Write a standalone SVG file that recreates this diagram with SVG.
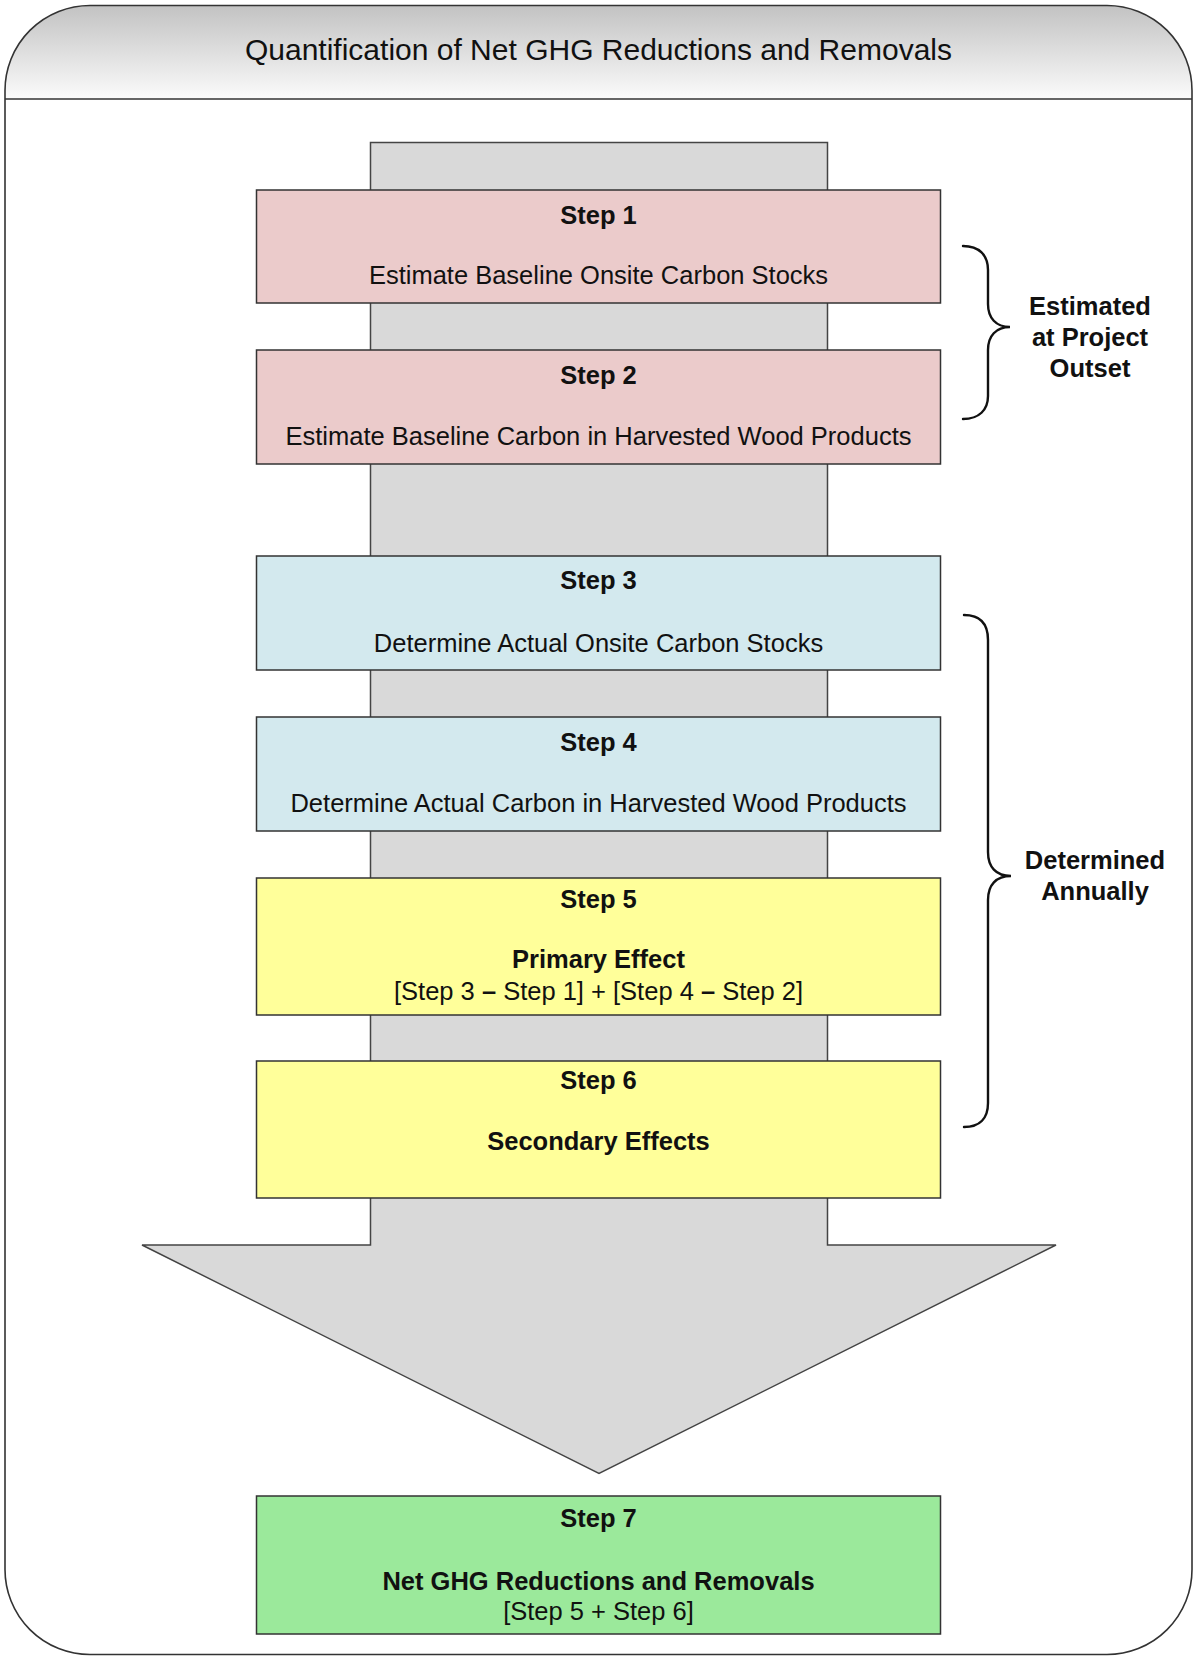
<svg xmlns="http://www.w3.org/2000/svg" width="1194" height="1656" viewBox="0 0 1194 1656">
<defs>
<linearGradient id="hdr" gradientUnits="userSpaceOnUse" x1="0" y1="5" x2="0" y2="99">
<stop offset="0" stop-color="#c2c2c2"/>
<stop offset="1" stop-color="#fbfbfb"/>
</linearGradient>
<clipPath id="hclip"><rect x="0" y="0" width="1194" height="99"/></clipPath>
<style>
.frame{fill:none;stroke:#333;stroke-width:1.6}
.box{stroke:#333;stroke-width:1.5}
.pink{fill:#ebcbcb}
.blue{fill:#d3e9ee}
.yellow{fill:#ffff9a}
.green{fill:#9be99b}
.t{font-family:"Liberation Sans",Arial,sans-serif;font-size:25.5px;fill:#111;text-anchor:middle}
.b{font-weight:bold}
.brace{fill:none;stroke:#111;stroke-width:2.4;stroke-linecap:round}
</style>
</defs>
<rect x="0" y="0" width="1194" height="1656" fill="#ffffff"/>
<g id="frame">
<rect x="5" y="5.5" width="1187" height="1649" rx="85" ry="85" fill="url(#hdr)" clip-path="url(#hclip)"/>
<rect class="frame" x="5" y="5.5" width="1187" height="1649" rx="85" ry="85"/>
<line x1="5" y1="99" x2="1192" y2="99" stroke="#333" stroke-width="1.6"/>
<text class="t" x="598.5" y="60" style="font-size:30px">Quantification of Net GHG Reductions and Removals</text>
</g>
<g id="connectors">
<polygon id="flow-arrow" points="370.5,142.5 827.5,142.5 827.5,1245 1056,1245 599,1473.5 142,1245 370.5,1245" fill="#d9d9d9" stroke="#444" stroke-width="1.5" stroke-linejoin="miter"/>
</g>
<g id="step1">
<rect class="box pink" x="256.5" y="190" width="684" height="113"/>
<text class="t b" x="598.5" y="224">Step 1</text>
<text class="t" x="598.5" y="284">Estimate Baseline Onsite Carbon Stocks</text>
</g>
<g id="step2">
<rect class="box pink" x="256.5" y="350" width="684" height="114"/>
<text class="t b" x="598.5" y="384">Step 2</text>
<text class="t" x="598.5" y="445">Estimate Baseline Carbon in Harvested Wood Products</text>
</g>
<g id="step3">
<rect class="box blue" x="256.5" y="556" width="684" height="114"/>
<text class="t b" x="598.5" y="589">Step 3</text>
<text class="t" x="598.5" y="652">Determine Actual Onsite Carbon Stocks</text>
</g>
<g id="step4">
<rect class="box blue" x="256.5" y="717" width="684" height="114"/>
<text class="t b" x="598.5" y="751">Step 4</text>
<text class="t" x="598.5" y="812">Determine Actual Carbon in Harvested Wood Products</text>
</g>
<g id="step5">
<rect class="box yellow" x="256.5" y="878" width="684" height="137"/>
<text class="t b" x="598.5" y="908">Step 5</text>
<text class="t b" x="598.5" y="968">Primary Effect</text>
<text class="t" x="598.5" y="1000">[Step 3 <tspan class="b">–</tspan> Step 1] + [Step 4 <tspan class="b">–</tspan> Step 2]</text>
</g>
<g id="step6">
<rect class="box yellow" x="256.5" y="1061" width="684" height="137"/>
<text class="t b" x="598.5" y="1089">Step 6</text>
<text class="t b" x="598.5" y="1150">Secondary Effects</text>
</g>
<g id="step7">
<rect class="box green" x="256.5" y="1496" width="684" height="138"/>
<text class="t b" x="598.5" y="1527">Step 7</text>
<text class="t b" x="598.5" y="1590">Net GHG Reductions and Removals</text>
<text class="t" x="598.5" y="1620">[Step 5 + Step 6]</text>
</g>
<g id="brace-outset">
<path class="brace" d="M963,246 C979,246 988,255 988,270 L988,304 C988,318 996,327 1010,327 C996,327 988,336 988,350 L988,396 C988,410 979,419 963,419"/>
<text class="t b" x="1090" y="315">Estimated</text>
<text class="t b" x="1090" y="346">at Project</text>
<text class="t b" x="1090" y="377">Outset</text>
</g>
<g id="brace-annual">
<path class="brace" d="M964,615 C980,615 988,624 988,640 L988,852 C988,867 996,876 1011,876 C996,876 988,885 988,900 L988,1103 C988,1118 980,1127 964,1127"/>
<text class="t b" x="1095" y="869">Determined</text>
<text class="t b" x="1095" y="900">Annually</text>
</g>
</svg>
